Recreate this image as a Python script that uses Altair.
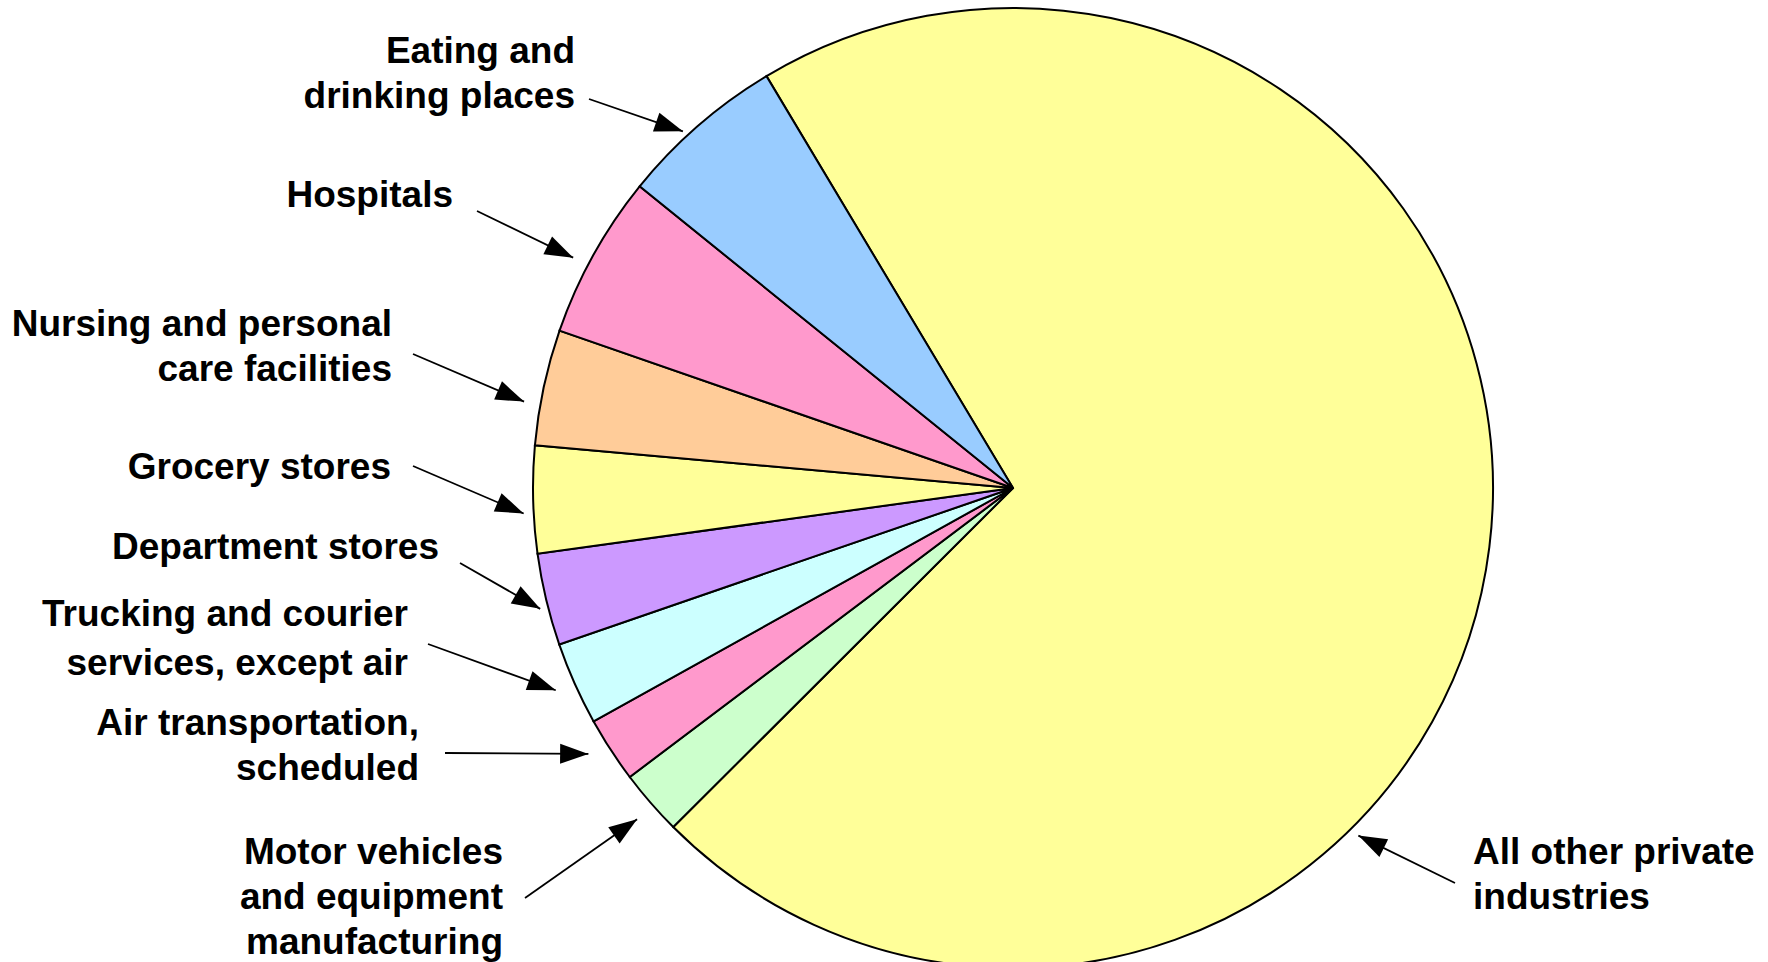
import math

import altair as alt
import pandas as pd

# Share of cases by industry, percent (slices listed clockwise from the big one)
industries = [
    "All other private industries",
    "Motor vehicles and equipment manufacturing",
    "Air transportation, scheduled",
    "Trucking and courier services, except air",
    "Department stores",
    "Grocery stores",
    "Nursing and personal care facilities",
    "Hospitals",
    "Eating and drinking places",
]
shares = [71.1, 2.2, 2.2, 2.8, 3.1, 3.6, 3.9, 5.5, 5.6]
slice_colors = [
    "#FFFF99", "#CCFFCC", "#FF99CC", "#CCFFFF", "#CC99FF",
    "#FFFF99", "#FFCC99", "#FF99CC", "#99CCFF",
]
label_lines = [
    ["All other private", "industries"],
    ["Motor vehicles", "and equipment", "manufacturing"],
    ["Air transportation,", "scheduled"],
    ["Trucking and courier", "services, except air"],
    ["Department stores"],
    ["Grocery stores"],
    ["Nursing and personal", "care facilities"],
    ["Hospitals"],
    ["Eating and", "drinking places"],
]

# Canvas and pie geometry (pixels)
W, H = 1768, 962
CX, CY, R = 1013, 488, 480
START_DEG = 329.1  # first slice starts here, clockwise from 12 o'clock

# Callout layout: text anchor, first baseline, line spacing, arrow tail,
# and where each arrow meets the pie (angle nudge off slice middle, gap off rim)
label_x = [1473, 503, 419, 408, 439, 391, 392, 453, 575]
label_y = [864, 864, 735, 626, 559, 479, 336, 207, 63]
line_gap = [45, 45, 45, 48.5, 45, 45, 45, 45, 45]
label_align = ["left"] + ["right"] * 8
tail_x = [1455, 525, 445, 428, 460, 413, 413, 477, 589]
tail_y = [883, 898, 753, 644, 563, 466, 354, 211, 99]
tip_nudge = [38.1, -0.4, 1.0, 0.2, -0.9, -1.6, -2.1, -1.4, -1.8]
tip_gap = [10, 21, 21, 20, 8, 10, 16.5, 16.5, 6]

FONT = "Liberation Sans, Arial, Helvetica, sans-serif"
FONT_SIZE = 37
HEAD_SIZE = 800

total = sum(shares)

# Slice middles (degrees clockwise from 12 o'clock) give the arrow tips
arrows = []
cum = 0.0
for i, s in enumerate(shares):
    mid = START_DEG + (cum + s / 2) / total * 360
    cum += s
    th = math.radians(mid + tip_nudge[i])
    r = R + tip_gap[i]
    tx = CX + r * math.sin(th)
    ty = CY - r * math.cos(th)
    dx, dy = tx - tail_x[i], ty - tail_y[i]
    ang = math.degrees(math.atan2(dx, -dy)) % 360
    arrows.append({"x": tail_x[i], "y": tail_y[i], "x2": tx, "y2": ty, "ang": ang})
arrow_df = pd.DataFrame(arrows)

rows = []
for i, lines in enumerate(label_lines):
    for j, line in enumerate(lines):
        rows.append({
            "x": label_x[i],
            "y": label_y[i] + j * line_gap[i],
            "text": line,
            "align": label_align[i],
        })
text_df = pd.DataFrame(rows)

pie_df = pd.DataFrame({
    "industry": industries,
    "share": shares,
    "rank": list(range(len(industries))),
})

x_px = alt.Scale(domain=[0, W], range=[0, W], nice=False, zero=False)
y_px = alt.Scale(domain=[0, H], range=[0, H], nice=False, zero=False)

a0 = math.radians(START_DEG)
pie = alt.Chart(pie_df).mark_arc(
    stroke="black", strokeWidth=2, outerRadius=R
).encode(
    theta=alt.Theta(
        "share:Q", stack=True,
        scale=alt.Scale(domain=[0, total], range=[a0, a0 + 2 * math.pi], nice=False),
    ),
    order=alt.Order("rank:Q", sort="ascending"),
    color=alt.Color(
        "industry:N",
        scale=alt.Scale(domain=industries, range=slice_colors),
        legend=None,
    ),
    x=alt.value(CX),
    y=alt.value(CY),
)

shafts = alt.Chart(arrow_df).mark_rule(color="black", strokeWidth=1.8).encode(
    x=alt.X("x:Q", scale=x_px, axis=None),
    y=alt.Y("y:Q", scale=y_px, axis=None),
    x2="x2:Q",
    y2="y2:Q",
)

heads = alt.Chart(arrow_df).mark_point(
    shape="M0,0L-0.7,2L0.7,2Z", filled=True, color="black",
    size=HEAD_SIZE, opacity=1, strokeWidth=0,
).encode(
    x=alt.X("x2:Q", scale=x_px, axis=None),
    y=alt.Y("y2:Q", scale=y_px, axis=None),
    angle=alt.Angle("ang:Q", scale=None),
)


def label_layer(side):
    return alt.Chart(text_df).transform_filter(
        alt.datum.align == side
    ).mark_text(
        align=side, baseline="alphabetic", font=FONT,
        fontSize=FONT_SIZE, fontWeight="bold", color="black",
    ).encode(
        x=alt.X("x:Q", scale=x_px, axis=None),
        y=alt.Y("y:Q", scale=y_px, axis=None),
        text="text:N",
    )


chart = alt.layer(
    pie, shafts, heads, label_layer("right"), label_layer("left")
).properties(
    width=W, height=H, autosize=alt.AutoSizeParams(type="none"), padding=0,
    background="white",
).configure_view(stroke=None)

chart.save("out.html", embed_options={"renderer": "svg", "actions": False})
